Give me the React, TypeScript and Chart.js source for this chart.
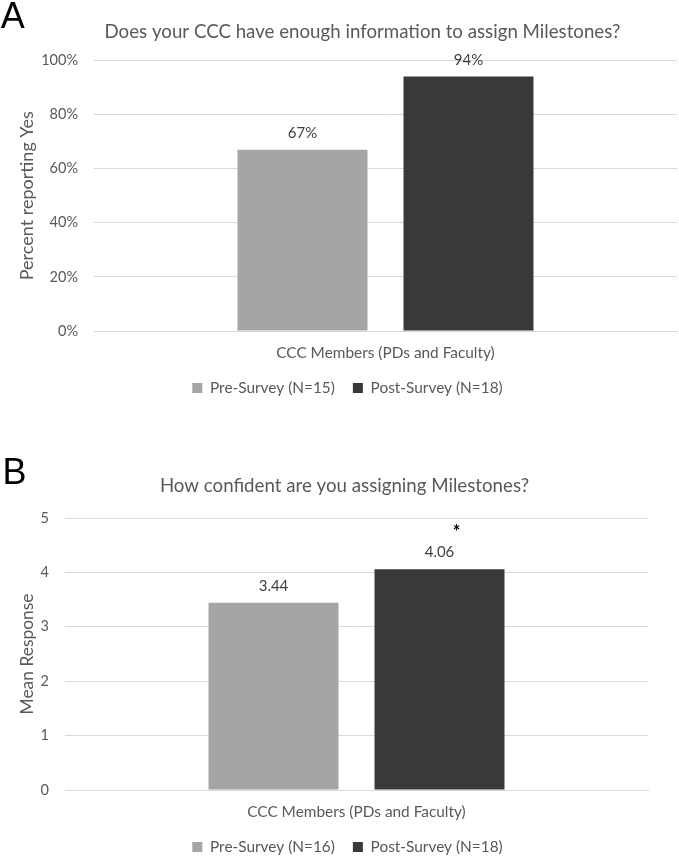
import React, { useEffect, useRef } from "react";
import { Chart, registerables } from "chart.js";

Chart.register(...registerables);

// ---------- data ----------
const CATEGORIES = ["CCC Members (PDs and Faculty)"];

const A_TITLE = "Does your CCC have enough information to assign Milestones?";
const A_Y_TITLE = "Percent reporting Yes";
const A_SERIES = ["Pre-Survey (N=15)", "Post-Survey (N=18)"];
const A_VALUES = [67, 94];
const A_Y_MAX = 100;
const A_Y_STEP = 20;

const B_TITLE = "How confident are you assigning Milestones?";
const B_Y_TITLE = "Mean Response";
const B_SERIES = ["Pre-Survey (N=16)", "Post-Survey (N=18)"];
const B_VALUES = [3.44, 4.06];
const B_MARKS = ["", "*"];
const B_Y_MAX = 5;
const B_Y_STEP = 1;

const SERIES_COLORS = ["#A5A5A5", "#3B3838"];

// ---------- styles ----------
const FONT = "Lato";
const TEXT = "#595959";
const GRID = "#D9D9D9";

const valueLabelPlugin = {
  id: "valueLabels",
  afterDatasetsDraw(chart: any, _args: any, opts: any) {
    const ctx = chart.ctx;
    ctx.save();
    ctx.textAlign = "center";
    ctx.textBaseline = "middle";
    chart.data.datasets.forEach((ds: any, di: number) => {
      const meta = chart.getDatasetMeta(di);
      meta.data.forEach((bar: any, i: number) => {
        const v = ds.data[i];
        ctx.font = `15px ${FONT}`;
        ctx.fillStyle = "#404040";
        ctx.fillText(opts.format(v), bar.x, bar.y - 16.5);
        const mark = opts.marks ? opts.marks[di] : "";
        if (mark) {
          ctx.font = `bold 18px ${FONT}`;
          ctx.fillStyle = "#000000";
          ctx.fillText(mark, bar.x + 17, bar.y - 37);
        }
      });
    });
    ctx.restore();
  },
};

// shifts the library-drawn title and legend horizontally after layout
const boxShiftPlugin = {
  id: "boxShift",
  afterLayout(chart: any, _args: any, opts: any) {
    const l = chart.legend;
    if (l && opts.legendDx) {
      l.left += opts.legendDx;
      l.right += opts.legendDx;
    }
    const t = chart.titleBlock;
    if (t && opts.titleDx) {
      t.left += opts.titleDx;
      t.right += opts.titleDx;
    }
  },
};

type PanelOpts = {
  title: string;
  yTitle: string;
  yTitleSize: number;
  series: string[];
  values: number[];
  yMax: number;
  yStep: number;
  tickFmt: (v: number) => string;
  valueFmt: (v: number) => string;
  marks?: string[];
  titlePad: { top: number; bottom: number };
  layoutPad: { left: number; right: number; top: number; bottom: number };
  yWidth: number;
  yTitlePadTop: number;
  legendDx: number;
  titleDx: number;
};

function makeConfig(p: PanelOpts): any {
  return {
    type: "bar",
    data: {
      labels: CATEGORIES,
      datasets: p.series.map((s, i) => ({
        label: s,
        data: [p.values[i]],
        backgroundColor: SERIES_COLORS[i],
        borderWidth: 0,
        categoryPercentage: 0.5695,
        barPercentage: 0.783,
      })),
    },
    options: {
      responsive: false,
      animation: false,
      devicePixelRatio: 1,
      layout: { padding: p.layoutPad },
      plugins: {
        title: {
          display: true,
          text: p.title,
          color: TEXT,
          font: { family: FONT, size: 18.7, weight: "normal", lineHeight: 1.2 },
          padding: p.titlePad,
        },
        legend: {
          display: true,
          position: "bottom",
          labels: {
            boxWidth: 10,
            boxHeight: 10,
            padding: 18,
            color: TEXT,
            font: { family: FONT, size: 15.4 },
          },
        },
        tooltip: { enabled: false },
        valueLabels: { format: p.valueFmt, marks: p.marks },
        boxShift: { legendDx: p.legendDx, titleDx: p.titleDx },
      },
      scales: {
        x: {
          grid: { display: false, drawTicks: false },
          border: { display: true, color: GRID, width: 1 },
          ticks: {
            color: TEXT,
            font: { family: FONT, size: 15.4, lineHeight: 1.2 },
            padding: 12.76,
          },
          afterFit: (s: any) => {
            s.height = 31.3;
          },
        },
        y: {
          min: 0,
          max: p.yMax,
          ticks: {
            stepSize: p.yStep,
            color: TEXT,
            font: { family: FONT, size: 14.5 },
            padding: 16,
            callback: (v: any) => p.tickFmt(Number(v)),
          },
          grid: { color: GRID, lineWidth: 1, drawTicks: false },
          border: { display: false },
          title: {
            display: true,
            text: p.yTitle,
            color: TEXT,
            font: { family: FONT, size: p.yTitleSize, lineHeight: 1.2 },
            padding: { top: p.yTitlePadTop, bottom: 0 },
          },
          afterFit: (s: any) => {
            s.width = p.yWidth;
          },
        },
      },
    },
    plugins: [valueLabelPlugin, boxShiftPlugin],
  };
}

function BarPanel({ opts, top, height }: { opts: PanelOpts; top: number; height: number }) {
  const ref = useRef<HTMLCanvasElement>(null);
  useEffect(() => {
    if (!ref.current) return;
    const chart = new Chart(ref.current, makeConfig(opts));
    return () => chart.destroy();
  }, []);
  return (
    <canvas
      ref={ref}
      width={679}
      height={height}
      style={{ position: "absolute", left: 0, top, width: 679, height }}
    />
  );
}

const panelA: PanelOpts = {
  title: A_TITLE,
  yTitle: A_Y_TITLE,
  yTitleSize: 18,
  series: A_SERIES,
  values: A_VALUES,
  yMax: A_Y_MAX,
  yStep: A_Y_STEP,
  tickFmt: (v) => `${v}%`,
  valueFmt: (v) => `${v}%`,
  titlePad: { top: 20.8, bottom: 17.06 },
  layoutPad: { left: 0, right: 2, top: 0, bottom: 4.3 },
  yWidth: 94,
  yTitlePadTop: 16.2,
  legendDx: 9,
  titleDx: 24,
};

const panelB: PanelOpts = {
  title: B_TITLE,
  yTitle: B_Y_TITLE,
  yTitleSize: 17.4,
  series: B_SERIES,
  values: B_VALUES,
  yMax: B_Y_MAX,
  yStep: B_Y_STEP,
  tickFmt: (v) => `${v}`,
  valueFmt: (v) => v.toFixed(2),
  marks: B_MARKS,
  titlePad: { top: 34.8, bottom: 20.76 },
  layoutPad: { left: 0, right: 31, top: 0, bottom: 5.3 },
  yWidth: 65,
  yTitlePadTop: 16.55,
  legendDx: 23.5,
  titleDx: 20.5,
};

const letterStyle: React.CSSProperties = {
  position: "absolute",
  fontFamily: '"Liberation Sans", Arial, sans-serif',
  fontSize: 36,
  lineHeight: "36px",
  color: "#000",
};

export default function App() {
  return (
    <div
      style={{
        position: "fixed",
        left: 0,
        top: 0,
        width: 679,
        height: 856,
        overflow: "hidden",
        background: "#ffffff",
      }}
    >
      <BarPanel opts={panelA} top={0} height={410} />
      <BarPanel opts={panelB} top={440} height={430} />
      <div style={{ ...letterStyle, left: 0.7, top: -2.2 }}>A</div>
      <div style={{ ...letterStyle, left: 2.4, top: 453.8 }}>B</div>
    </div>
  );
}
